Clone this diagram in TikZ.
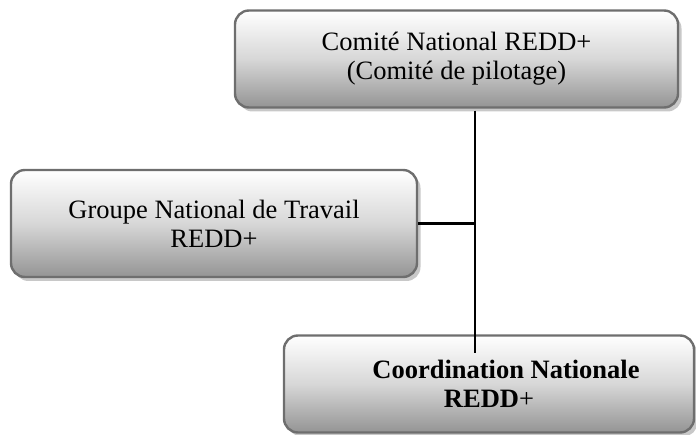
\documentclass[tikz,border=0pt]{standalone}
\usepackage{fontspec}
\setmainfont{Liberation Serif}
\usetikzlibrary{shadows}
\definecolor{boxborder}{RGB}{110,110,110}
\definecolor{boxbottom}{RGB}{148,148,148}
\definecolor{shadowgray}{RGB}{200,200,200}
\tikzset{
  orgbox/.style={rectangle, rounded corners=14pt, draw=boxborder, line width=2.4pt,
    top color=white, bottom color=boxbottom, middle color={rgb,255:red,215;green,215;blue,215},
    drop shadow={shadow xshift=3.5pt, shadow yshift=-4pt, fill=shadowgray, opacity=1},
    align=center, font=\fontsize{26.5}{29}\selectfont, inner sep=0pt},
  link/.style={draw=black, line width=2.2pt}
}
\begin{document}
\begin{tikzpicture}[x=1pt,y=-1pt]
\useasboundingbox (0,0) rectangle (696,435);
\node[orgbox, minimum width=443pt, minimum height=97pt] (top) at (456.5,59)
  {Comité National REDD+\\(Comité de pilotage)};
\node[orgbox, minimum width=406pt, minimum height=107pt] (grp) at (214,223.5)
  {Groupe National de Travail\\REDD+};
\node[orgbox, minimum width=410pt, minimum height=97pt] (coord) at (489,384)
  {\hspace*{34pt}\textbf{Coordination Nationale}\\\textbf{REDD}+};
\coordinate (j) at (475,223.5);
\coordinate (jend) at (475,353);
\draw[link] ([yshift=-2pt]top.south -| j) -- (j) -- (jend);
\draw[link] (grp.east) -- (j);
\end{tikzpicture}
\end{document}
